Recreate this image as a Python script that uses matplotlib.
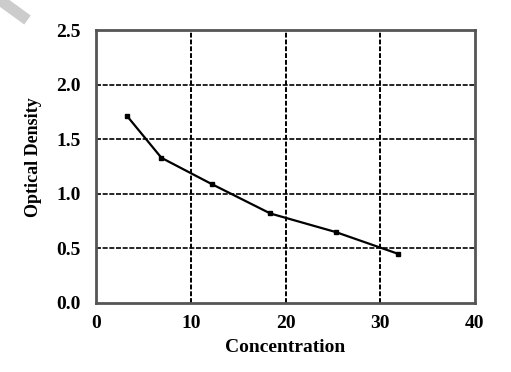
import matplotlib
matplotlib.use("Agg")
import matplotlib.pyplot as plt
from matplotlib.lines import Line2D

## standard curve values
concentration = [3.3, 6.9, 12.2, 18.4, 25.3, 31.9]
optical_density = [1.71, 1.33, 1.09, 0.82, 0.65, 0.45]
x_ticks = [0, 10, 20, 30, 40]
y_ticks = [0.0, 0.5, 1.0, 1.5, 2.0, 2.5]

plt.rcParams["font.family"] = ["Liberation Serif", "DejaVu Serif"]
plt.rcParams["font.weight"] = "bold"

fig = plt.figure(figsize=(5.11, 3.72), dpi=100)
ax = fig.add_axes([0.188, 0.1855, 0.7415, 0.7335])

ax.plot(concentration, optical_density, color="black", linewidth=1.6,
        marker="s", markersize=3.5)

ax.set_xlim(0, 40)
ax.set_ylim(0, 2.5)
ax.set_xticks(x_ticks)
ax.set_yticks(y_ticks)
ax.set_yticklabels([f"{v:.1f}" for v in y_ticks])
ax.tick_params(length=0, labelsize=14)
ax.tick_params(axis="x", pad=9)
ax.tick_params(axis="y", pad=11)

#dashed grid, only the inner lines
for v in x_ticks[1:-1]:
    ax.axvline(v, color="black", linestyle=(0, (2.5, 1)), linewidth=1.4, zorder=1)
for v in y_ticks[1:-1]:
    ax.axhline(v, color="black", linestyle=(0, (3, 1)), linewidth=1.2, zorder=1)

for s in ax.spines.values():
    s.set_color("#555555")
    s.set_linewidth(2)

ax.set_xlabel("Concentration", fontsize=14, fontweight="bold", labelpad=5)
ax.set_ylabel("Optical Density", fontsize=13, fontweight="bold")
ax.yaxis.set_label_coords(-0.142, 0.535)

# grey mark in the top left corner
fig.add_artist(Line2D([0.0, 0.045], [1.0, 0.955], color="#cccccc",
                      linewidth=8, transform=fig.transFigure))

fig.savefig("out.png", dpi=100)
